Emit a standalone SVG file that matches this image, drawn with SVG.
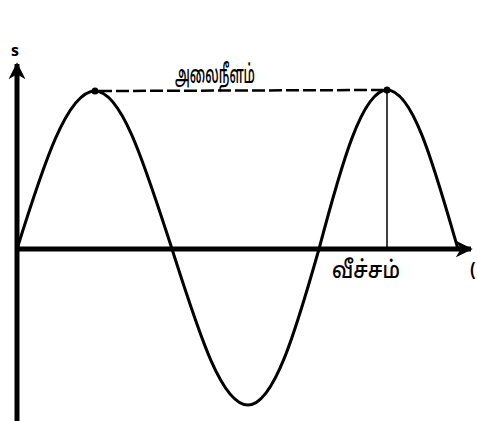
<svg xmlns="http://www.w3.org/2000/svg" width="478" height="421" viewBox="0 0 478 421">
<style>
.axis{stroke:#000;stroke-width:5;fill:none}
.wave{stroke:#000;stroke-width:3;fill:none;stroke-linecap:round}
.thin{stroke:#000;stroke-width:1.5;fill:none}
.dash{stroke:#000;stroke-width:2.5;fill:none;stroke-dasharray:13 4}
.lbl{font-family:"Noto Sans Tamil","Lohit Tamil","Noto Sans","DejaVu Sans",sans-serif;fill:#000}
</style>
<defs>
<marker id="arr" viewBox="0 0 10 10" refX="9" refY="5" markerWidth="3.4" markerHeight="3.6" orient="auto" markerUnits="strokeWidth">
<path d="M0,0 L10,5 L0,10 L3,5 Z" fill="#000"/>
</marker>
</defs>
<rect width="478" height="421" fill="#fff"/>
<g id="axes">
<line class="axis" x1="17" y1="421" x2="17" y2="64" marker-end="url(#arr)"/>
<line class="axis" x1="15" y1="249" x2="471" y2="249" marker-end="url(#arr)"/>
</g>
<g id="wave">
<path class="wave" d="M17,249 C43,166 67,91 95,91 C122,91 145,166 172,249 C198,330 221,405 248,405 C274,405 296,330 319,249 C341,166 362,90 387,90 C413,90 434,166 458,249"/>
<circle cx="95" cy="91" r="3.5" fill="#000"/>
<circle cx="387" cy="90" r="3.5" fill="#000"/>
</g>
<g id="connectors">
<line class="dash" x1="99" y1="91" x2="383" y2="90"/>
<line class="thin" x1="387" y1="90" x2="387" y2="249"/>
</g>
<g id="labels">
<text class="lbl" x="175" y="83" font-size="26" font-weight="500" textLength="80" lengthAdjust="spacingAndGlyphs">அலைநீளம்</text>
<text class="lbl" x="332" y="278" font-size="24" font-weight="500" textLength="68" lengthAdjust="spacingAndGlyphs">வீச்சம்</text>
<text class="lbl" x="15" y="56" font-size="16" font-weight="bold" text-anchor="middle">s</text>
<text class="lbl" x="470" y="275" font-size="16" font-weight="bold">(</text>
</g>
</svg>
